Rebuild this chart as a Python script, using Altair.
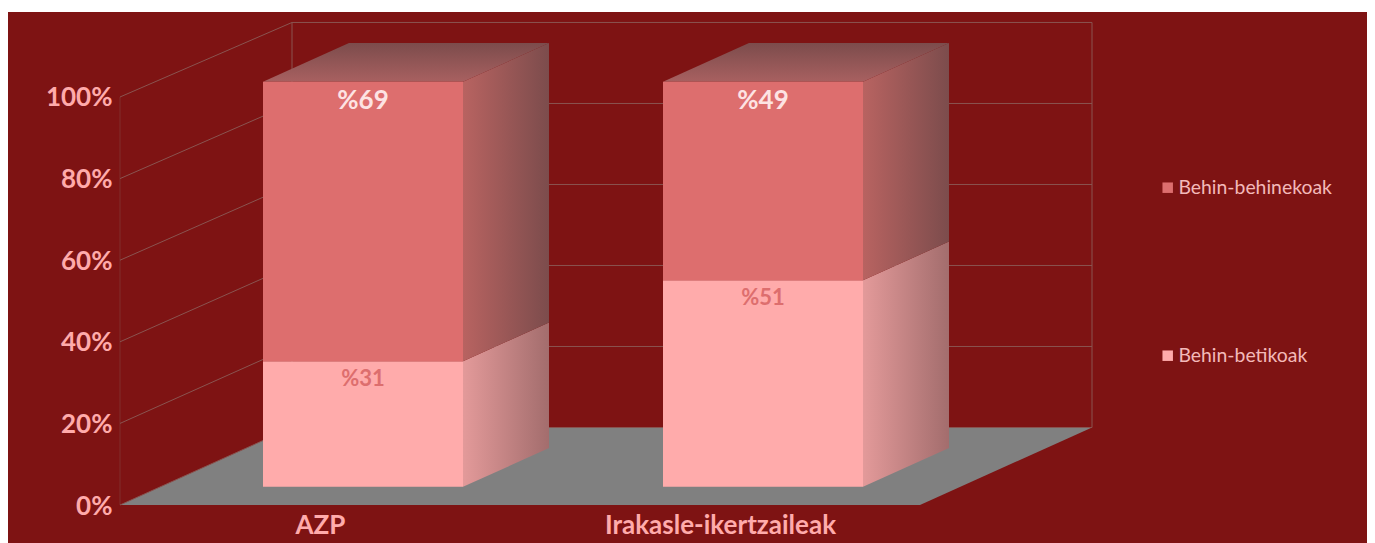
import altair as alt
import pandas as pd

# ---- values ----
categories = ["AZP", "Irakasle-ikertzaileak"]
behin_betikoak = [31, 51]
behin_behinekoak = [69, 49]
series_names = ["Behin-behinekoak", "Behin-betikoak"]
y_ticks = [0, 20, 40, 60, 80, 100]

# ---- styles ----
BG = "#7e1313"
TOP_C = "#dd6e6e"
BOT_C = "#ffabab"
FLOOR = "#808080"
GRID = "#8a5450"
FONT = "Lato"

# ---- oblique projection (slot units on x, percent on y) ----
DX, DY = 0.43, 19.0
BACK_SCALE = 405 / 408
BAR_BASE = -0.3
X_DOM = [-0.28, 3.1175]
Y_DOM = [-9.31, 121.81]
D0, D1 = 0.25, 0.75
HALF = 0.25


def px(slot, d):
    return slot + DX * d


def py(v, d):
    return v + DY * d


x_scale = alt.Scale(domain=X_DOM, nice=False, zero=False)
y_scale = alt.Scale(domain=Y_DOM, nice=False, zero=False)
x_axis = alt.Axis(
    orient="bottom", offset=-38, values=[0.5, 1.5], grid=False, domain=False, ticks=False,
    labelExpr="datum.value < 1 ? '%s' : '%s'" % tuple(categories),
    labelColor=BOT_C, labelFont=FONT, labelFontSize=26, labelFontWeight=700, labelPadding=7,
    labelFlush=False, labelOverlap=False, labelLimit=500, zindex=1, title=None)
y_axis = alt.Axis(
    orient="left", offset=-112, values=y_ticks, grid=False, domain=False, ticks=False,
    labelExpr="datum.value + '%'",
    labelColor=BOT_C, labelFont=FONT, labelFontSize=26, labelFontWeight=700, labelPadding=8,
    labelOffset=1, labelOverlap=False, zindex=1, title=None)
X = lambda f="x": alt.X(f + ":Q", scale=x_scale, axis=x_axis)
Y = lambda f="y": alt.Y(f + ":Q", scale=y_scale, axis=y_axis)
X2 = alt.X2("x2:Q")
Y2 = alt.Y2("y2:Q")


def grad(stops, vertical=False):
    if vertical:
        return alt.Gradient(gradient="linear", stops=stops, x1=0, x2=0, y1=1, y2=0)
    return alt.Gradient(gradient="linear", stops=stops, x1=0, x2=1, y1=0, y2=0)


# background panel
bg = alt.Chart(pd.DataFrame([{"x": X_DOM[0], "x2": X_DOM[1], "y": Y_DOM[0], "y2": 120.83}])).mark_rect(
    color=BG
).encode(x=X(), x2=X2, y=Y(), y2=Y2)

# floor
floor = alt.Chart(pd.DataFrame([
    {"x": px(0, 0), "x2": px(2, 0), "y": py(0, 0)},
    {"x": px(0, 1), "x2": px(2, 1), "y": py(0, 1)},
])).mark_area(orient="horizontal", color=FLOOR).encode(x=X(), x2=X2, y=Y())

# wall grid lines
rows = []
for v in y_ticks:
    back = v * BACK_SCALE
    rows.append({"x": px(0, 0), "x2": px(0, 1), "y": py(v, 0), "y2": py(back, 1), "o": 1.0})
    rows.append({"x": px(0, 1), "x2": px(2, 1), "y": py(back, 1), "y2": py(back, 1), "o": 1.0})
top_back = 100 * BACK_SCALE
rows.append({"x": px(0, 0), "x2": px(0, 0), "y": py(0, 0), "y2": py(100, 0), "o": 0.4})
rows.append({"x": px(0, 1), "x2": px(0, 1), "y": py(0, 1), "y2": py(top_back, 1), "o": 1.0})
rows.append({"x": px(2, 1), "x2": px(2, 1), "y": py(0, 1), "y2": py(top_back, 1), "o": 1.0})
grid = alt.Chart(pd.DataFrame(rows)).mark_rule(color=GRID, strokeWidth=1).encode(
    x=X(), x2=X2, y=Y(), y2=Y2, opacity=alt.Opacity("o:Q", scale=None))

# 3-D faces
side_bot, side_top, top_face, front, labels_bot, labels_top = [], [], [], [], [], []
for i, cat in enumerate(categories):
    c = i + 0.5
    z = BAR_BASE
    b = behin_betikoak[i] * BACK_SCALE + BAR_BASE
    t = (behin_betikoak[i] + behin_behinekoak[i]) * BACK_SCALE + BAR_BASE
    for d in (D0, D1):
        side_bot.append({"id": cat, "x": px(c + HALF, d), "y": py(z, d), "y2": py(b, d)})
        side_top.append({"id": cat, "x": px(c + HALF, d), "y": py(b, d), "y2": py(t, d)})
        top_face.append({"id": cat, "x": px(c - HALF, d), "x2": px(c + HALF, d), "y": py(t, d)})
    front.append({"s": series_names[1], "x": px(c - HALF, D0), "x2": px(c + HALF, D0), "y": py(z, D0), "y2": py(b, D0)})
    front.append({"s": series_names[0], "x": px(c - HALF, D0), "x2": px(c + HALF, D0), "y": py(b, D0), "y2": py(t, D0)})
    labels_bot.append({"x": px(c, D0), "y": py(b, D0), "t": "%" + str(behin_betikoak[i])})
    labels_top.append({"x": px(c, D0), "y": py(t, D0), "t": "%" + str(behin_behinekoak[i])})

side_b = alt.Chart(pd.DataFrame(side_bot)).mark_area(
    color=grad([alt.GradientStop(offset=0, color="#e39a9a"), alt.GradientStop(offset=1, color="#a36d6d")])
).encode(x=X(), y=Y(), y2=Y2, detail="id:N")
side_t = alt.Chart(pd.DataFrame(side_top)).mark_area(
    color=grad([alt.GradientStop(offset=0, color="#b86361"), alt.GradientStop(offset=1, color="#7c4c4c")])
).encode(x=X(), y=Y(), y2=Y2, detail="id:N")
top_f = alt.Chart(pd.DataFrame(top_face)).mark_area(
    orient="horizontal",
    color=grad([alt.GradientStop(offset=0, color="#a86060"), alt.GradientStop(offset=1, color="#7c4c4c")], vertical=True),
).encode(x=X(), x2=X2, y=Y(), detail="id:N")

front_f = alt.Chart(pd.DataFrame(front)).mark_rect().encode(
    x=X(), x2=X2, y=Y(), y2=Y2,
    color=alt.Color("s:N", scale=alt.Scale(domain=series_names, range=[TOP_C, BOT_C]), legend=alt.Legend(
        title=None, orient="none", legendX=1150, legendY=170, symbolType="square", symbolSize=110,
        symbolStrokeWidth=0, labelColor="#f3b9b9", labelFont=FONT, labelFontSize=19.4, labelLimit=300,
        labelOffset=1, rowPadding=147, padding=0)),
)

text_b = alt.Chart(pd.DataFrame(labels_bot)).mark_text(
    color=TOP_C, font=FONT, fontSize=22, fontWeight=700, dy=18
).encode(x=X(), y=Y(), text="t:N")
text_t = alt.Chart(pd.DataFrame(labels_top)).mark_text(
    color="#fde3e3", font=FONT, fontSize=26, fontWeight=700, dy=19
).encode(x=X(), y=Y(), text="t:N")

chart = alt.layer(bg, floor, grid, side_b, side_t, top_f, front_f, text_b, text_t).properties(
    width=1359, height=535, padding=0, autosize=alt.AutoSizeParams(type="none"), background="white"
).configure_view(stroke=None)

chart.save("out.html", embed_options={"renderer": "svg", "actions": False})
